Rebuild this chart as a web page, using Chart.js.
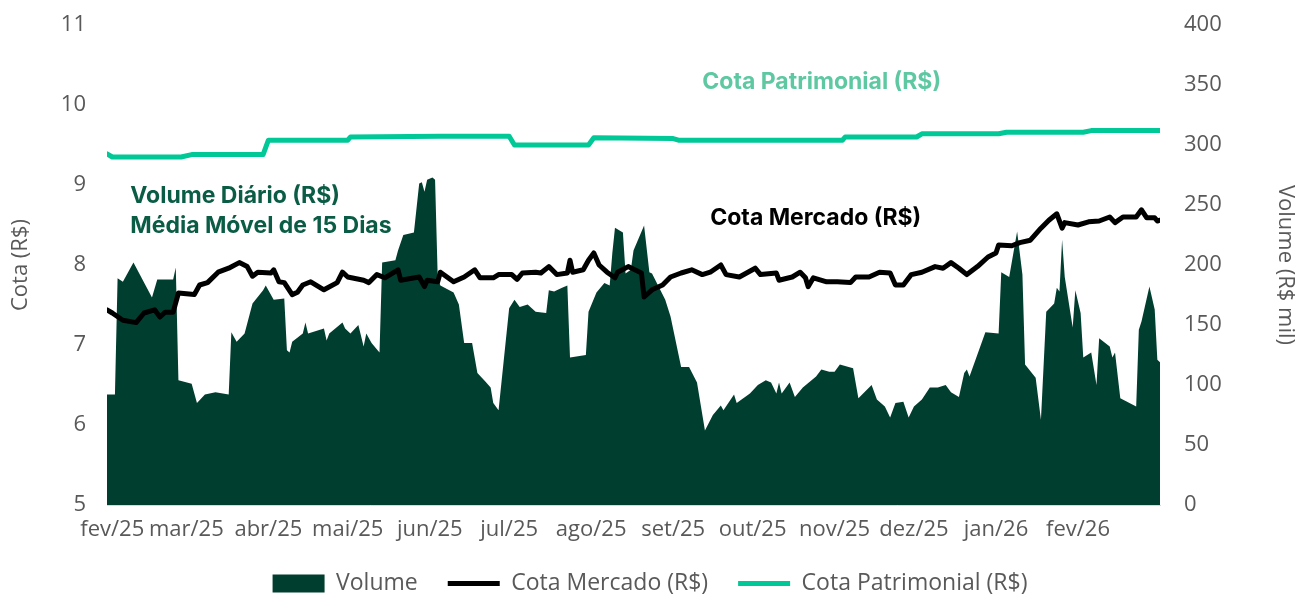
<!DOCTYPE html>
<html lang="pt-BR">
<head>
<meta charset="utf-8">
<title>Volume e Cota</title>
<script src="https://cdn.jsdelivr.net/npm/chart.js@4.4.1/dist/chart.umd.min.js"></script>
<style>
  html, body { margin: 0; padding: 0; background: #fff; }
  #wrap { width: 1300px; height: 595px; }
</style>
</head>
<body>
<div id="wrap"><canvas id="grafico"></canvas></div>
<script>
// -- Dados (dias contados a partir de 01/02/2025) --
const mesesDias = [0, 28, 59, 89, 120, 150, 181, 212, 242, 273, 303, 334, 365];
const mesesLabels = ['fev/25', 'mar/25', 'abr/25', 'mai/25', 'jun/25', 'jul/25', 'ago/25',
  'set/25', 'out/25', 'nov/25', 'dez/25', 'jan/26', 'fev/26'];

// Volume diário, média móvel de 15 dias (R$ mil)
const volumeDias = [-2, 1, 2, 4, 8, 15, 17, 23, 24, 25, 30, 32, 35, 39, 44, 45, 47, 50, 53, 57,
  58, 61, 65, 66, 67, 68, 72, 73, 74, 80, 81, 82, 87, 88, 90, 93, 95, 96, 98, 101,
  102, 107, 108, 110, 114, 116, 117, 118, 119, 121, 122, 123, 124, 129, 131, 133, 136, 138, 141, 143,
  144, 146, 150, 152, 154, 157, 160, 164, 165, 167, 170, 172, 173, 179, 180, 183, 186, 188, 189, 190,
  193, 194, 196, 197, 201, 203, 204, 209, 211, 215, 218, 221, 224, 227, 230, 231, 235, 236, 241, 244,
  247, 249, 251, 252, 253, 256, 258, 261, 266, 268, 271, 273, 275, 280, 282, 287, 289, 292, 294, 296,
  299, 301, 303, 306, 309, 312, 315, 317, 320, 322, 323, 324, 330, 335, 336, 339, 342, 344, 345, 349,
  351, 353, 356, 357, 358, 359, 360, 363, 364, 366, 367, 370, 372, 373, 377, 378, 379, 381, 387, 388,
  389, 392, 394, 395, 396];
const volume = [92, 92, 189, 186, 202, 173, 188, 188, 198, 104, 101, 85, 92, 94, 92, 144, 136, 143, 168, 179,
  183, 171, 172, 129, 127, 136, 143, 152, 143, 147, 137, 143, 152, 147, 143, 150, 132, 143, 135, 127,
  202, 204, 212, 225, 227, 268, 269, 261, 271, 273, 271, 190, 183, 177, 167, 135, 135, 110, 103, 98,
  85, 79, 164, 171, 165, 167, 161, 160, 179, 178, 181, 183, 123, 125, 161, 177, 185, 183, 210, 231,
  227, 193, 196, 212, 233, 194, 193, 171, 157, 115, 115, 102, 62, 75, 83, 79, 92, 85, 93, 100,
  104, 102, 93, 102, 93, 102, 90, 98, 107, 113, 111, 111, 117, 114, 89, 100, 88, 82, 73, 85,
  86, 73, 82, 88, 98, 98, 100, 94, 90, 110, 113, 107, 144, 143, 194, 190, 228, 192, 117, 106,
  71, 161, 168, 181, 178, 221, 190, 148, 179, 160, 123, 127, 100, 139, 132, 123, 127, 89, 82, 146,
  153, 182, 163, 121, 119];

// Cota de mercado (R$)
const mercadoDias = [-2, 0, 4, 9, 12, 16, 18, 20, 23, 25, 31, 33, 36, 40, 44, 48, 51, 53, 55, 60,
  61, 63, 65, 68, 70, 72, 75, 80, 85, 87, 89, 95, 97, 100, 103, 108, 109, 116, 118, 119,
  123, 124, 129, 133, 137, 139, 144, 146, 151, 153, 155, 160, 162, 165, 168, 172, 173, 174, 178, 180,
  182, 184, 187, 190, 191, 195, 200, 201, 204, 208, 211, 215, 219, 223, 226, 230, 232, 237, 243, 245,
  251, 252, 257, 260, 262, 263, 265, 270, 274, 279, 281, 286, 290, 294, 296, 299, 302, 306, 311, 314,
  317, 320, 323, 327, 331, 334, 335, 340, 343, 347, 351, 354, 357, 359, 360, 365, 369, 373, 377, 379,
  382, 387, 389, 391, 394, 395, 396];
const cotaMercado = [7.44, 7.40, 7.31, 7.28, 7.40, 7.44, 7.35, 7.41, 7.41, 7.65, 7.63, 7.75, 7.78, 7.91, 7.96, 8.03, 7.98, 7.86, 7.91, 7.90,
  7.94, 7.79, 7.78, 7.63, 7.66, 7.75, 7.79, 7.69, 7.78, 7.91, 7.85, 7.81, 7.78, 7.88, 7.84, 7.94, 7.81, 7.85, 7.73, 7.81,
  7.79, 7.91, 7.79, 7.85, 7.94, 7.84, 7.84, 7.88, 7.88, 7.82, 7.90, 7.91, 7.90, 7.98, 7.88, 7.90, 8.06, 7.91, 7.94, 8.06,
  8.15, 8.00, 7.91, 7.84, 7.91, 7.98, 7.90, 7.60, 7.69, 7.75, 7.85, 7.90, 7.94, 7.88, 7.91, 8.00, 7.88, 7.85, 7.96, 7.88,
  7.90, 7.81, 7.85, 7.91, 7.84, 7.73, 7.84, 7.79, 7.79, 7.78, 7.85, 7.85, 7.91, 7.90, 7.75, 7.75, 7.88, 7.91, 7.98, 7.96,
  8.03, 7.96, 7.88, 7.98, 8.10, 8.15, 8.25, 8.24, 8.28, 8.31, 8.46, 8.56, 8.64, 8.46, 8.53, 8.50, 8.54, 8.55, 8.60, 8.53,
  8.60, 8.60, 8.69, 8.59, 8.59, 8.55, 8.56];

// Cota patrimonial (R$)
const patrimonialDias = [-2, 0, 26, 30, 57, 59, 89, 90, 124, 150, 152, 180, 182, 212, 214, 276, 277, 304, 306, 335,
  338, 367, 370, 396];
const cotaPatrimonial = [9.39, 9.35, 9.35, 9.38, 9.38, 9.56, 9.56, 9.60, 9.61, 9.61, 9.50, 9.50, 9.59, 9.58, 9.56, 9.56, 9.60, 9.60, 9.64, 9.64,
  9.66, 9.66, 9.68, 9.68];

const pontos = (xs, ys) => xs.map((x, i) => ({ x: x, y: ys[i] }));

// -- Rótulos escritos dentro do gráfico --
const rotulosPlugin = {
  id: 'rotulos',
  afterDatasetsDraw(chart) {
    const { ctx, scales } = chart;
    const itens = [
      { texto: 'Cota Patrimonial (R$)', x: 223, y: 10.29, cor: '#5ec8a2' },
      { texto: 'Volume Diário (R$)', x: 6.8, y: 8.86, cor: '#0b5c45' },
      { texto: 'Média Móvel de 15 Dias', x: 6.8, y: 8.49, cor: '#0b5c45' },
      { texto: 'Cota Mercado (R$)', x: 226, y: 8.59, cor: '#000000' }
    ];
    ctx.save();
    ctx.font = 'bold 23px Inter, "Noto Sans", sans-serif';
    ctx.textBaseline = 'middle';
    ctx.textAlign = 'left';
    itens.forEach(it => {
      ctx.fillStyle = it.cor;
      ctx.fillText(it.texto, scales.x.getPixelForValue(it.x), scales.y.getPixelForValue(it.y));
    });
    ctx.restore();
  }
};

const cinza = '#595959';
const fonteEixo = { family: '"Open Sans", "Noto Sans", sans-serif', size: 22 };

// eixos verticais com largura fixa e sem folga extra no topo
const ajustaVertical = largura => s => {
  s.width = largura;
  s.paddingTop = 0;
  s.paddingBottom = 0;
};

new Chart(document.getElementById('grafico'), {
  type: 'line',
  data: {
    datasets: [
      {
        label: 'Volume',
        data: pontos(volumeDias, volume),
        yAxisID: 'y1',
        backgroundColor: '#003f2f',
        borderWidth: 0,
        fill: 'origin',
        pointRadius: 0,
        pointStyle: 'rect',
        tension: 0,
        order: 2
      },
      {
        label: 'Cota Mercado (R$)',
        data: pontos(mercadoDias, cotaMercado),
        yAxisID: 'y',
        borderColor: '#000000',
        backgroundColor: '#000000',
        borderWidth: 5,
        borderCapStyle: 'round',
        borderJoinStyle: 'round',
        pointRadius: 0,
        pointStyle: 'line',
        tension: 0,
        order: 1
      },
      {
        label: 'Cota Patrimonial (R$)',
        data: pontos(patrimonialDias, cotaPatrimonial),
        yAxisID: 'y',
        borderColor: '#00c896',
        backgroundColor: '#00c896',
        borderWidth: 5,
        borderCapStyle: 'round',
        borderJoinStyle: 'round',
        pointRadius: 0,
        pointStyle: 'line',
        tension: 0,
        order: 0
      }
    ]
  },
  options: {
    responsive: true,
    maintainAspectRatio: false,
    animation: false,
    layout: { padding: { top: 25, left: 0, right: 0, bottom: 0 } },
    scales: {
      x: {
        type: 'linear',
        min: -2,
        max: 396,
        grid: { display: false, drawTicks: false },
        border: { display: true, color: '#d9d9d9', width: 1 },
        afterBuildTicks: s => { s.ticks = mesesDias.map(v => ({ value: v })); },
        afterFit: s => { s.height = 37; },
        ticks: {
          autoSkip: false,
          maxRotation: 0,
          padding: 12,
          color: cinza,
          font: fonteEixo,
          callback: (v, i) => mesesLabels[i]
        }
      },
      y: {
        position: 'left',
        min: 5,
        max: 11,
        grid: { display: false, drawTicks: false },
        border: { display: false },
        afterFit: ajustaVertical(107),
        ticks: { stepSize: 1, padding: 21, color: cinza, font: fonteEixo },
        title: { display: true, text: 'Cota (R$)', color: cinza, font: fonteEixo, padding: { top: 8, bottom: 0 } }
      },
      y1: {
        position: 'right',
        min: 0,
        max: 400,
        grid: { display: false, drawTicks: false },
        border: { display: false },
        afterFit: ajustaVertical(140),
        ticks: { stepSize: 50, padding: 24, color: cinza, font: fonteEixo },
        title: { display: true, text: 'Volume (R$ mil)', color: cinza, font: fonteEixo, padding: { top: 2, bottom: 0 } }
      }
    },
    plugins: {
      tooltip: { enabled: false },
      legend: {
        position: 'bottom',
        maxHeight: 53,
        labels: {
          usePointStyle: true,
          pointStyleWidth: 52,
          boxHeight: 18,
          padding: 30,
          color: cinza,
          font: { family: fonteEixo.family, size: 23 },
          sort: (a, b) => a.datasetIndex - b.datasetIndex
        }
      }
    }
  },
  plugins: [rotulosPlugin]
});
</script>
</body>
</html>
